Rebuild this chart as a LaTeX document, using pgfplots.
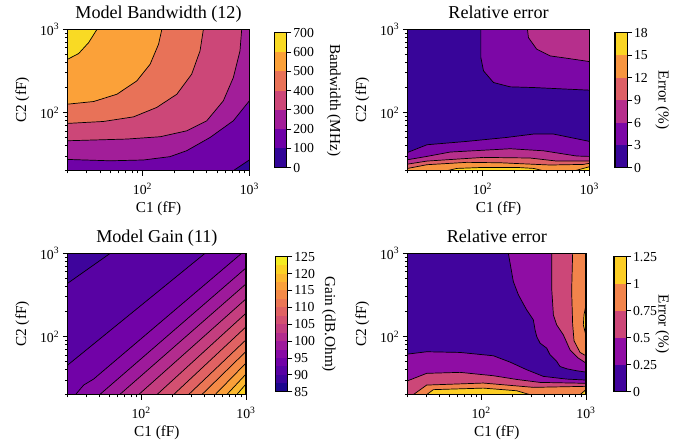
\documentclass[border=0pt]{standalone}
\usepackage{fontspec}
\setmainfont{Liberation Serif}
\usepackage{pgfplots}
\pgfplotsset{compat=1.18}

\newcommand{\tickfont}{\fontsize{13.8}{15}\selectfont}
\newcommand{\labfont}{\fontsize{15.3}{17}\selectfont}
\newcommand{\mytitlesize}{\fontsize{18.2}{22}\selectfont}

\definecolor{bw0}{HTML}{320597}\definecolor{bw1}{HTML}{6F02A7}\definecolor{bw2}{HTML}{A21E99}
\definecolor{bw3}{HTML}{CC4778}\definecolor{bw4}{HTML}{E87258}\definecolor{bw5}{HTML}{FBA139}
\definecolor{bw6}{HTML}{F9DA24}
\definecolor{er0}{HTML}{380599}\definecolor{er1}{HTML}{7C07A6}\definecolor{er2}{HTML}{B62F8C}
\definecolor{er3}{HTML}{DD5F66}\definecolor{er4}{HTML}{F79540}\definecolor{er5}{HTML}{FAD524}
\definecolor{eb0}{HTML}{41049D}\definecolor{eb1}{HTML}{8F0DA4}\definecolor{eb2}{HTML}{CC4778}
\definecolor{eb3}{HTML}{F2844B}\definecolor{eb4}{HTML}{FCCE25}
\definecolor{g0}{HTML}{1D078E}\definecolor{g1}{HTML}{3E049C}\definecolor{g2}{HTML}{5802A3}
\definecolor{g3}{HTML}{7102A7}\definecolor{g4}{HTML}{880BA5}\definecolor{g5}{HTML}{9E1A9B}
\definecolor{g6}{HTML}{B32C8E}\definecolor{g7}{HTML}{C43E7F}\definecolor{g8}{HTML}{D35071}
\definecolor{g9}{HTML}{E06263}\definecolor{g10}{HTML}{EB7655}\definecolor{g11}{HTML}{F48A47}
\definecolor{g12}{HTML}{FAA03A}\definecolor{g13}{HTML}{FCB82F}\definecolor{g14}{HTML}{FBD125}
\definecolor{g15}{HTML}{F4EC22}

\pgfplotsset{every axis/.append style={
  scale only axis, axis on top, tick align=outside,
  major tick length=4.9bp, minor tick length=2.8bp,
  tick style={line width=0.75bp, black},
  axis line style={line width=1.1bp},
  every axis x label/.style={at={([yshift=-41.5bp]axis description cs:0.5,0)}, anchor=base, font=\labfont},
}}
\tikzset{ctr/.style={draw=black, line width=0.7bp}}

\begin{document}
\begin{tikzpicture}
\useasboundingbox (0,0) rectangle (699bp,447bp);

% ================= Model Bandwidth =================
\begin{axis}[anchor=south west, at={(67.7bp,276.3bp)}, width=181.6bp, height=141.4bp,
  xmode=log, ymode=log, xmin=20, xmax=1000, ymin=20, ymax=1000, tick pos=left,
  xtick={100,1000}, ytick={100,1000},
  xticklabels={10\textsuperscript{2},10\textsuperscript{3}},
  yticklabels={10\textsuperscript{2},10\textsuperscript{3}},
  minor xtick={20,30,40,50,60,70,80,90,200,300,400,500,600,700,800,900},
  minor ytick={20,30,40,50,60,70,80,90,200,300,400,500,600,700,800,900},
  xticklabel style={font=\tickfont, anchor=base, inner sep=0pt, yshift=-19.4bp},
  yticklabel style={font=\tickfont, anchor=east, inner sep=0pt, xshift=-3.5bp},
  xlabel={C1 (fF)}, ylabel={C2 (fF)},
  every axis y label/.style={at={([xshift=-41.5bp]axis description cs:0,0.5)}, rotate=90, anchor=base, font=\labfont}]
\addplot[fill=bw0, draw=none] coordinates {(20,20)(1000,20)(1000,1000)(20,1000)};
\addplot[fill=bw1, draw=none] coordinates {(20,20)(709,20)(1000,26.9)(1000,1000)(20,1000)};
\addplot[fill=bw2, draw=none] coordinates {(20,27.3)(50,26.3)(102.5,26.9)(181,29.5)(260,34.8)(430,50.2)(709,79.6)(1000,138)(1000,1000)(20,1000)};
\addplot[fill=bw3, draw=none] coordinates {(20,45.8)(71.6,48)(147,51.2)(260,60.3)(400,79.6)(571,138)(709,263)(818,550)(849,1000)(20,1000)};
\addplot[fill=bw4, draw=none] coordinates {(20,74)(43.3,78.1)(82.6,88.7)(136,115)(210,166)(289,289)(346,550)(372,1000)(20,1000)};
\addplot[fill=bw5, draw=none] coordinates {(20,126)(35,135.6)(57.8,166)(88.7,240)(118,380)(141.5,661)(152,1000)(20,1000)};
\addplot[fill=bw6, draw=none] coordinates {(20,437)(25.3,511)(31.4,692)(37.6,1000)(20,1000)};
\addplot[ctr] coordinates {(709,20)(1000,26.9)};
\addplot[ctr] coordinates {(20,27.3)(50,26.3)(102.5,26.9)(181,29.5)(260,34.8)(430,50.2)(709,79.6)(1000,138)};
\addplot[ctr] coordinates {(20,45.8)(71.6,48)(147,51.2)(260,60.3)(400,79.6)(571,138)(709,263)(818,550)(849,1000)};
\addplot[ctr] coordinates {(20,74)(43.3,78.1)(82.6,88.7)(136,115)(210,166)(289,289)(346,550)(372,1000)};
\addplot[ctr] coordinates {(20,126)(35,135.6)(57.8,166)(88.7,240)(118,380)(141.5,661)(152,1000)};
\addplot[ctr] coordinates {(20,437)(25.3,511)(31.4,692)(37.6,1000)};
\end{axis}
\node[anchor=base, inner sep=0pt] at (158.5bp,428.7bp) {\mytitlesize Model Bandwidth (12)};
\begin{axis}[anchor=south west, at={(274.3bp,279.3bp)}, width=12.2bp, height=135bp,
  xmin=0, xmax=1, xtick=\empty, ytick pos=right, yticklabel pos=right,
  yticklabel style={font=\tickfont, anchor=west, inner sep=0pt, xshift=1.7bp},
  every axis y label/.style={at={([xshift=43.7bp]axis description cs:1,0.5)}, rotate=-90, anchor=base, font=\labfont},
  ymin=0, ymax=700, ytick={0,100,200,300,400,500,600,700},
  yticklabels={0,100,200,300,400,500,600,700}, ylabel={Bandwidth (MHz)}]
\addplot[fill=bw0, draw=none] coordinates {(0,0)(1,0)(1,100)(0,100)};
\addplot[fill=bw1, draw=none] coordinates {(0,100)(1,100)(1,200)(0,200)};
\addplot[fill=bw2, draw=none] coordinates {(0,200)(1,200)(1,300)(0,300)};
\addplot[fill=bw3, draw=none] coordinates {(0,300)(1,300)(1,400)(0,400)};
\addplot[fill=bw4, draw=none] coordinates {(0,400)(1,400)(1,500)(0,500)};
\addplot[fill=bw5, draw=none] coordinates {(0,500)(1,500)(1,600)(0,600)};
\addplot[fill=bw6, draw=none] coordinates {(0,600)(1,600)(1,700)(0,700)};
\end{axis}

% ================= Relative error (bandwidth) =================
\begin{axis}[anchor=south west, at={(407.7bp,276.3bp)}, width=181.6bp, height=141.4bp,
  xmode=log, ymode=log, xmin=20, xmax=1000, ymin=20, ymax=1000, tick pos=left,
  xtick={100,1000}, ytick={100,1000},
  xticklabels={10\textsuperscript{2},10\textsuperscript{3}},
  yticklabels={10\textsuperscript{2},10\textsuperscript{3}},
  minor xtick={20,30,40,50,60,70,80,90,200,300,400,500,600,700,800,900},
  minor ytick={20,30,40,50,60,70,80,90,200,300,400,500,600,700,800,900},
  xticklabel style={font=\tickfont, anchor=base, inner sep=0pt, yshift=-19.4bp},
  yticklabel style={font=\tickfont, anchor=east, inner sep=0pt, xshift=-3.5bp},
  xlabel={C1 (fF)}, ylabel={C2 (fF)},
  every axis y label/.style={at={([xshift=-41.5bp]axis description cs:0,0.5)}, rotate=90, anchor=base, font=\labfont}]
\addplot[fill=er0, draw=none] coordinates {(20,20)(1000,20)(1000,1000)(20,1000)};
\addplot[fill=er1, draw=none] coordinates {(96.7,1000)(96.7,457.5)(102.4,316.5)(127,229.3)(181.8,203.5)(300.2,199.7)(1000,185.6)(1000,1000)};
\addplot[fill=er2, draw=none] coordinates {(263.8,1000)(269.6,794.7)(322.5,575.9)(429.6,479)(614.4,449.2)(1000,409.6)(1000,1000)};
\addplot[fill=er1, draw=none] coordinates {(20,33.2)(30.3,41.0)(71.6,45.0)(169,50.2)(300,55.1)(462,55.1)(709,49.3)(1000,45.0)(1000,20)(20,20)};
\addplot[fill=er2, draw=none] coordinates {(20,27.1)(30.3,29.7)(50,33.5)(182,36.7)(372,34.7)(762,30.0)(1000,29.7)(1000,20)(20,20)};
\addplot[fill=er3, draw=none] coordinates {(20,24.0)(30.3,26.1)(102,28.9)(279,28.4)(496,26.1)(1000,26.1)(1000,20)(20,20)};
\addplot[fill=er4, draw=none] coordinates {(20,21.3)(30.3,23.6)(71.6,25.2)(147,24.9)(430,23.4)(879,23.8)(1000,24.5)(1000,20)(20,20)};
\addplot[fill=er5, draw=none] coordinates {(46.6,20)(57.8,21.3)(102,21.9)(210,21.9)(300,21.3)(372,20)};
\addplot[fill=er5, draw=none] coordinates {(735,20)(1000,22.3)(1000,20)};
\addplot[ctr] coordinates {(96.7,1000)(96.7,457.5)(102.4,316.5)(127,229.3)(181.8,203.5)(300.2,199.7)(1000,185.6)};
\addplot[ctr] coordinates {(263.8,1000)(269.6,794.7)(322.5,575.9)(429.6,479)(614.4,449.2)(1000,409.6)};
\addplot[ctr] coordinates {(20,33.2)(30.3,41.0)(71.6,45.0)(169,50.2)(300,55.1)(462,55.1)(709,49.3)(1000,45.0)};
\addplot[ctr] coordinates {(20,27.1)(30.3,29.7)(50,33.5)(182,36.7)(372,34.7)(762,30.0)(1000,29.7)};
\addplot[ctr] coordinates {(20,24.0)(30.3,26.1)(102,28.9)(279,28.4)(496,26.1)(1000,26.1)};
\addplot[ctr] coordinates {(20,21.3)(30.3,23.6)(71.6,25.2)(147,24.9)(430,23.4)(879,23.8)(1000,24.5)};
\addplot[ctr] coordinates {(46.6,20)(57.8,21.3)(102,21.9)(210,21.9)(300,21.3)(372,20)};
\addplot[ctr] coordinates {(735,20)(1000,22.3)};
\end{axis}
\node[anchor=base, inner sep=0pt] at (498.5bp,428.7bp) {\mytitlesize Relative error};
\begin{axis}[anchor=south west, at={(615bp,279.3bp)}, width=12.2bp, height=135bp,
  xmin=0, xmax=1, xtick=\empty, ytick pos=right, yticklabel pos=right,
  yticklabel style={font=\tickfont, anchor=west, inner sep=0pt, xshift=1.7bp},
  every axis y label/.style={at={([xshift=31.3bp]axis description cs:1,0.5)}, rotate=-90, anchor=base, font=\labfont},
  ymin=0, ymax=18, ytick={0,3,6,9,12,15,18},
  yticklabels={0,3,6,9,12,15,18}, ylabel={Error (\%)}]
\addplot[fill=er0, draw=none] coordinates {(0,0)(1,0)(1,3)(0,3)};
\addplot[fill=er1, draw=none] coordinates {(0,3)(1,3)(1,6)(0,6)};
\addplot[fill=er2, draw=none] coordinates {(0,6)(1,6)(1,9)(0,9)};
\addplot[fill=er3, draw=none] coordinates {(0,9)(1,9)(1,12)(0,12)};
\addplot[fill=er4, draw=none] coordinates {(0,12)(1,12)(1,15)(0,15)};
\addplot[fill=er5, draw=none] coordinates {(0,15)(1,15)(1,18)(0,18)};
\end{axis}

% ================= Model Gain =================
\begin{axis}[anchor=south west, at={(67.7bp,52.3bp)}, width=178.3bp, height=141.4bp,
  xmode=log, ymode=log, xmin=20, xmax=1000, ymin=20, ymax=1000, tick pos=left,
  xtick={100,1000}, ytick={100,1000},
  xticklabels={10\textsuperscript{2},10\textsuperscript{3}},
  yticklabels={10\textsuperscript{2},10\textsuperscript{3}},
  minor xtick={20,30,40,50,60,70,80,90,200,300,400,500,600,700,800,900},
  minor ytick={20,30,40,50,60,70,80,90,200,300,400,500,600,700,800,900},
  xticklabel style={font=\tickfont, anchor=base, inner sep=0pt, yshift=-19.4bp},
  yticklabel style={font=\tickfont, anchor=east, inner sep=0pt, xshift=-3.5bp},
  xlabel={C1 (fF)}, ylabel={C2 (fF)},
  every axis y label/.style={at={([xshift=-41.5bp]axis description cs:0,0.5)}, rotate=90, anchor=base, font=\labfont}]
\addplot[fill=g1, draw=none] coordinates {(20,20)(1000,20)(1000,1000)(20,1000)};
\addplot[fill=g2, draw=none] coordinates {(20,436.5)(50.9,1000)(1000,1000)(1000,20)(20,20)};
\addplot[fill=g3, draw=none] coordinates {(20,45.4)(407.5,1000)(1000,1000)(1000,20)(20,20)};
\addplot[fill=g4, draw=none] coordinates {(23.7,20)(28.4,26.1)(35.3,30.8)(909.6,1000)(1000,1000)(1000,20)};
\addplot[fill=g5, draw=none] coordinates {(40.3,20)(1000,667)(1000,20)};
\addplot[fill=g6, draw=none] coordinates {(62.4,20)(1000,428.8)(1000,20)};
\addplot[fill=g7, draw=none] coordinates {(94.7,20)(1000,283.4)(1000,20)};
\addplot[fill=g8, draw=none] coordinates {(141.4,20)(1000,190.7)(1000,20)};
\addplot[fill=g9, draw=none] coordinates {(203.7,20)(1000,130.8)(1000,20)};
\addplot[fill=g10, draw=none] coordinates {(282.9,20)(1000,91.3)(1000,20)};
\addplot[fill=g11, draw=none] coordinates {(378.8,20)(1000,66.2)(1000,20)};
\addplot[fill=g12, draw=none] coordinates {(507.3,20)(1000,48.0)(1000,20)};
\addplot[fill=g13, draw=none] coordinates {(655.0,20)(1000,35.4)(1000,20)};
\addplot[fill=g14, draw=none] coordinates {(815.3,20)(1000,26.9)(1000,20)};
\addplot[ctr] coordinates {(20,436.5)(50.9,1000)};
\addplot[ctr] coordinates {(20,45.4)(407.5,1000)};
\addplot[ctr] coordinates {(23.7,20)(28.4,26.1)(35.3,30.8)(909.6,1000)};
\addplot[ctr] coordinates {(40.3,20)(1000,667)};
\addplot[ctr] coordinates {(62.4,20)(1000,428.8)};
\addplot[ctr] coordinates {(94.7,20)(1000,283.4)};
\addplot[ctr] coordinates {(141.4,20)(1000,190.7)};
\addplot[ctr] coordinates {(203.7,20)(1000,130.8)};
\addplot[ctr] coordinates {(282.9,20)(1000,91.3)};
\addplot[ctr] coordinates {(378.8,20)(1000,66.2)};
\addplot[ctr] coordinates {(507.3,20)(1000,48.0)};
\addplot[ctr] coordinates {(655.0,20)(1000,35.4)};
\addplot[ctr] coordinates {(815.3,20)(1000,26.9)};
\end{axis}
\node[anchor=base, inner sep=0pt] at (156.9bp,204.7bp) {\mytitlesize Model Gain (11)};
\begin{axis}[anchor=south west, at={(275.3bp,55.3bp)}, width=12.2bp, height=135bp,
  xmin=0, xmax=1, xtick=\empty, ytick pos=right, yticklabel pos=right,
  yticklabel style={font=\tickfont, anchor=west, inner sep=0pt, xshift=1.7bp},
  every axis y label/.style={at={([xshift=37.5bp]axis description cs:1,0.5)}, rotate=-90, anchor=base, font=\labfont},
  ymin=85, ymax=125, ytick={85,90,95,100,105,110,115,120,125},
  yticklabels={85,90,95,100,105,110,115,120,125}, ylabel={Gain (dB.Ohm)}]
\addplot[fill=g0, draw=none] coordinates {(0,85)(1,85)(1,87.5)(0,87.5)};
\addplot[fill=g1, draw=none] coordinates {(0,87.5)(1,87.5)(1,90)(0,90)};
\addplot[fill=g2, draw=none] coordinates {(0,90)(1,90)(1,92.5)(0,92.5)};
\addplot[fill=g3, draw=none] coordinates {(0,92.5)(1,92.5)(1,95)(0,95)};
\addplot[fill=g4, draw=none] coordinates {(0,95)(1,95)(1,97.5)(0,97.5)};
\addplot[fill=g5, draw=none] coordinates {(0,97.5)(1,97.5)(1,100)(0,100)};
\addplot[fill=g6, draw=none] coordinates {(0,100)(1,100)(1,102.5)(0,102.5)};
\addplot[fill=g7, draw=none] coordinates {(0,102.5)(1,102.5)(1,105)(0,105)};
\addplot[fill=g8, draw=none] coordinates {(0,105)(1,105)(1,107.5)(0,107.5)};
\addplot[fill=g9, draw=none] coordinates {(0,107.5)(1,107.5)(1,110)(0,110)};
\addplot[fill=g10, draw=none] coordinates {(0,110)(1,110)(1,112.5)(0,112.5)};
\addplot[fill=g11, draw=none] coordinates {(0,112.5)(1,112.5)(1,115)(0,115)};
\addplot[fill=g12, draw=none] coordinates {(0,115)(1,115)(1,117.5)(0,117.5)};
\addplot[fill=g13, draw=none] coordinates {(0,117.5)(1,117.5)(1,120)(0,120)};
\addplot[fill=g14, draw=none] coordinates {(0,120)(1,120)(1,122.5)(0,122.5)};
\addplot[fill=g15, draw=none] coordinates {(0,122.5)(1,122.5)(1,125)(0,125)};
\end{axis}

% ================= Relative error (gain) =================
\begin{axis}[anchor=south west, at={(407.7bp,52.3bp)}, width=178.3bp, height=141.4bp,
  xmode=log, ymode=log, xmin=20, xmax=1000, ymin=20, ymax=1000, tick pos=left,
  xtick={100,1000}, ytick={100,1000},
  xticklabels={10\textsuperscript{2},10\textsuperscript{3}},
  yticklabels={10\textsuperscript{2},10\textsuperscript{3}},
  minor xtick={20,30,40,50,60,70,80,90,200,300,400,500,600,700,800,900},
  minor ytick={20,30,40,50,60,70,80,90,200,300,400,500,600,700,800,900},
  xticklabel style={font=\tickfont, anchor=base, inner sep=0pt, yshift=-19.4bp},
  yticklabel style={font=\tickfont, anchor=east, inner sep=0pt, xshift=-3.5bp},
  xlabel={C1 (fF)}, ylabel={C2 (fF)},
  every axis y label/.style={at={([xshift=-41.5bp]axis description cs:0,0.5)}, rotate=90, anchor=base, font=\labfont}]
\addplot[fill=eb0, draw=none] coordinates {(20,20)(1000,20)(1000,1000)(20,1000)};
\addplot[fill=eb1, draw=none] coordinates {(182,1000)(203,457.5)(227,316.5)(272,209)(315,158.6)(327,120.3)(339,100.1)(365,83.3)(422,72.6)(454,60.4)(526,50.2)(565,43.7)(654,41.0)(815,38.8)(1000,37.4)(1000,1000)};
\addplot[fill=eb2, draw=none] coordinates {(471,1000)(471,380)(489,182)(526,138)(608,105)(704,69.3)(845,55)(1000,48)(1000,1000)};
\addplot[fill=eb3, draw=none] coordinates {(746,1000)(730,353)(746,141)(769,88.8)(877,64.4)(1000,58.7)(1000,1000)};
\addplot[fill=eb4, draw=none] coordinates {(1000,240)(957,182)(943,138)(986,110)(1000,107)};
\addplot[fill=eb1, draw=none] coordinates {(20,61.5)(30.3,65.6)(63.0,64.4)(131,58.7)(188.8,49.3)(272.1,39.9)(392.3,33.2)(654.3,30.8)(1000,30.0)(1000,20)(20,20)};
\addplot[fill=eb2, draw=none] coordinates {(20,29.4)(30.3,36.1)(63.0,37.1)(131,33.8)(218.5,30.5)(364.5,28.1)(1000,27.4)(1000,20)(20,20)};
\addplot[fill=eb3, draw=none] coordinates {(22.6,20)(30.3,26.1)(105.2,27.6)(314.9,24.5)(1000,25.2)(1000,20)};
\addplot[fill=eb4, draw=none] coordinates {(30.3,20)(35.1,23.0)(105.2,24.0)(218.5,22.3)(292.7,20)};
\addplot[fill=eb4, draw=none] coordinates {(876.5,20)(1000,23.0)(1000,20)};
\addplot[ctr] coordinates {(182,1000)(203,457.5)(227,316.5)(272,209)(315,158.6)(327,120.3)(339,100.1)(365,83.3)(422,72.6)(454,60.4)(526,50.2)(565,43.7)(654,41.0)(815,38.8)(1000,37.4)};
\addplot[ctr] coordinates {(471,1000)(471,380)(489,182)(526,138)(608,105)(704,69.3)(845,55)(1000,48)};
\addplot[ctr] coordinates {(746,1000)(730,353)(746,141)(769,88.8)(877,64.4)(1000,58.7)};
\addplot[ctr] coordinates {(1000,240)(957,182)(943,138)(986,110)(1000,107)};
\addplot[ctr] coordinates {(20,61.5)(30.3,65.6)(63.0,64.4)(131,58.7)(188.8,49.3)(272.1,39.9)(392.3,33.2)(654.3,30.8)(1000,30.0)};
\addplot[ctr] coordinates {(20,29.4)(30.3,36.1)(63.0,37.1)(131,33.8)(218.5,30.5)(364.5,28.1)(1000,27.4)};
\addplot[ctr] coordinates {(22.6,20)(30.3,26.1)(105.2,27.6)(314.9,24.5)(1000,25.2)};
\addplot[ctr] coordinates {(30.3,20)(35.1,23.0)(105.2,24.0)(218.5,22.3)(292.7,20)};
\addplot[ctr] coordinates {(876.5,20)(1000,23.0)};
\end{axis}
\node[anchor=base, inner sep=0pt] at (496.9bp,204.7bp) {\mytitlesize Relative error};
\begin{axis}[anchor=south west, at={(614bp,55.3bp)}, width=12.2bp, height=135bp,
  xmin=0, xmax=1, xtick=\empty, ytick pos=right, yticklabel pos=right,
  yticklabel style={font=\tickfont, anchor=west, inner sep=0pt, xshift=1.7bp},
  every axis y label/.style={at={([xshift=32.3bp]axis description cs:1,0.5)}, rotate=-90, anchor=base, font=\labfont},
  ymin=0, ymax=1.25, ytick={0,0.25,0.5,0.75,1,1.25},
  yticklabels={0,0.25,0.5,0.75,1,1.25}, ylabel={Error (\%)}]
\addplot[fill=eb0, draw=none] coordinates {(0,0)(1,0)(1,0.25)(0,0.25)};
\addplot[fill=eb1, draw=none] coordinates {(0,0.25)(1,0.25)(1,0.5)(0,0.5)};
\addplot[fill=eb2, draw=none] coordinates {(0,0.5)(1,0.5)(1,0.75)(0,0.75)};
\addplot[fill=eb3, draw=none] coordinates {(0,0.75)(1,0.75)(1,1)(0,1)};
\addplot[fill=eb4, draw=none] coordinates {(0,1)(1,1)(1,1.25)(0,1.25)};
\end{axis}
\end{tikzpicture}
\end{document}
